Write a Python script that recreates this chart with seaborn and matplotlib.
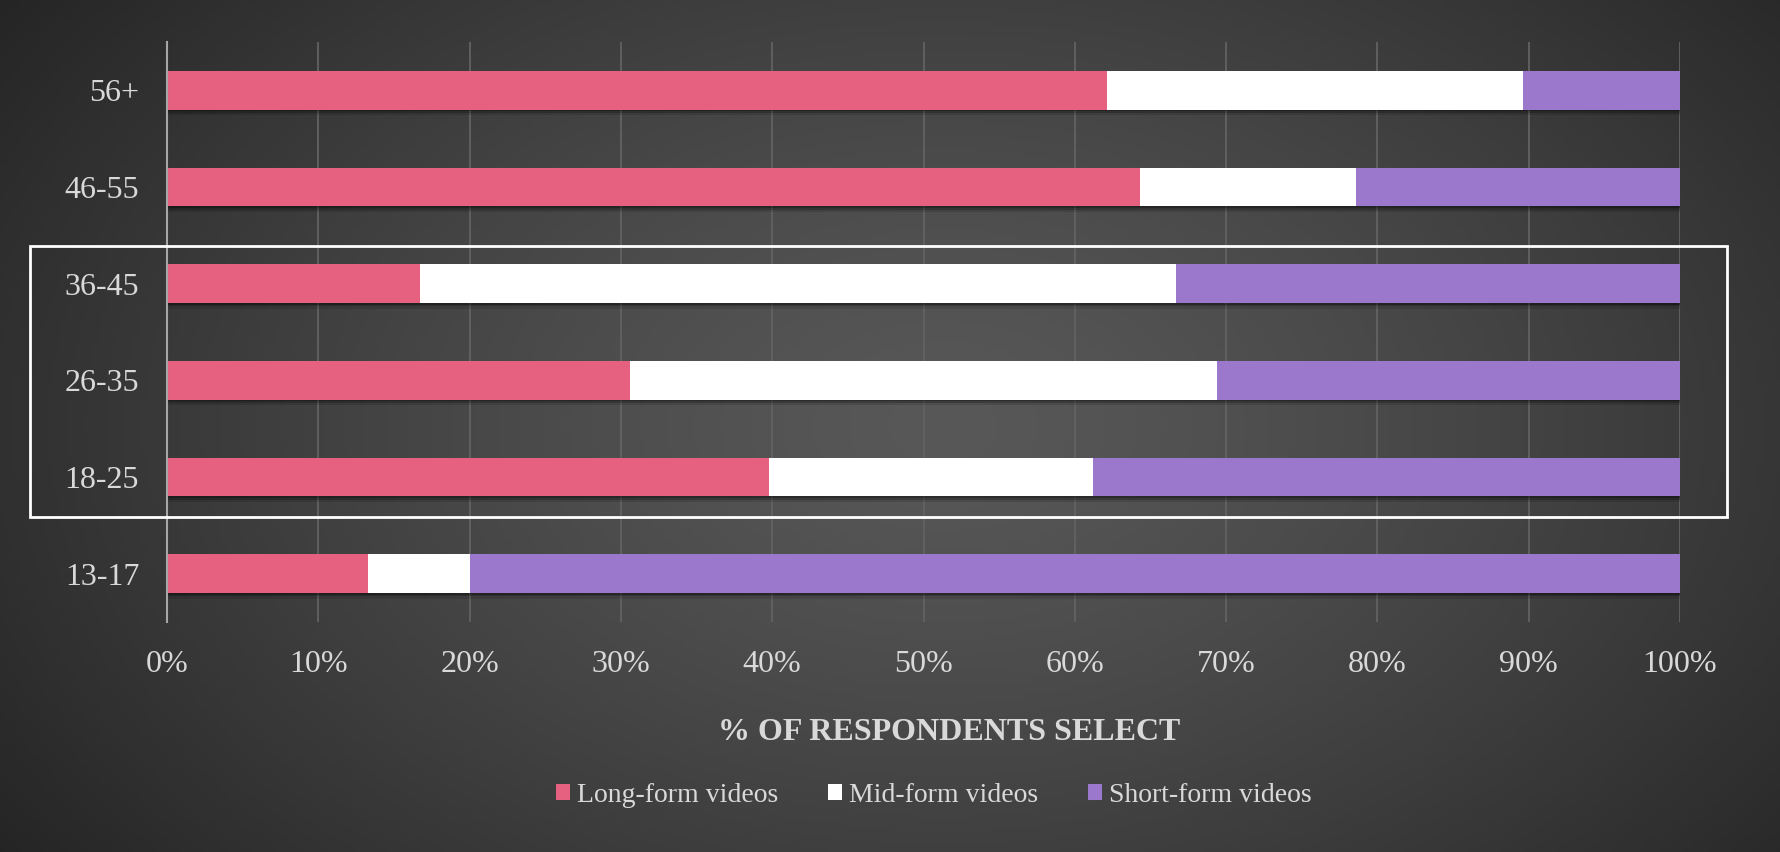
import numpy as np
import pandas as pd
import matplotlib
matplotlib.use("Agg")
import matplotlib.pyplot as plt
import matplotlib.patheffects as pe
from matplotlib.patches import Rectangle, Patch
import seaborn as sns

# Data
age_groups = ["56+", "46-55", "36-45", "26-35", "18-25", "13-17"]
long_form = [62.1, 64.3, 16.7, 30.6, 39.8, 13.3]
mid_form = [27.5, 14.3, 50.0, 38.8, 21.4, 6.7]
short_form = [10.4, 21.4, 33.3, 30.6, 38.8, 80.0]
series_names = ["Long-form videos", "Mid-form videos", "Short-form videos"]
series_colors = ["#E5617F", "#FFFFFF", "#9B78CC"]
x_ticks = list(range(0, 101, 10))

df = pd.DataFrame({
    "age": age_groups,
    "long": long_form,
    "mid": mid_form,
    "short": short_form,
})
df["cum_long"] = df["long"]
df["cum_mid"] = df["long"] + df["mid"]
df["cum_short"] = df["long"] + df["mid"] + df["short"]

sns.set_theme(style="dark")
plt.rcParams["font.family"] = ["Liberation Serif", "DejaVu Serif"]
text_color = "#D9D9D9"

fig = plt.figure(figsize=(17.8, 8.52), dpi=100)

# Radial gradient background
bg = fig.add_axes([0, 0, 1, 1], zorder=-10)
gx, gy = np.meshgrid(np.linspace(0, 1, 400), np.linspace(0, 1, 200))
r = np.sqrt(((gx - 0.53) / 0.55) ** 2 + ((gy - 0.5) / 0.75) ** 2)
r = np.clip(r / r.max(), 0, 1)
shade = 0x58 / 255 - (0x58 - 0x25) / 255 * r ** 1.3
bg.imshow(np.dstack([shade, shade, shade]), aspect="auto", extent=[0, 1, 0, 1])
bg.axis("off")

ax = fig.add_axes([167 / 1780, 230 / 852, 1513 / 1780, 580 / 852])
ax.set_facecolor("none")

# Stacked bars: draw the full-length segment first, then overlay
layers = [("cum_short", 2), ("cum_mid", 1), ("cum_long", 0)]
for col, i in layers:
    sns.barplot(data=df, y="age", x=col, order=age_groups, orient="h",
                color=series_colors[i], width=0.4, saturation=1,
                ax=ax, zorder=3, linewidth=0)

# soft shadow under the back layer only
n = len(age_groups)
for p in ax.patches[:n]:
    p.set_path_effects([
        pe.SimplePatchShadow(offset=(0, -4), shadow_rgbFace="black", alpha=0.12),
        pe.SimplePatchShadow(offset=(0, -2.5), shadow_rgbFace="black", alpha=0.2),
        pe.SimplePatchShadow(offset=(0, -1.2), shadow_rgbFace="black", alpha=0.25),
        pe.Normal()])

ax.set_xlim(0, 100)
ax.set_ylim(n - 0.5, -0.5)
ax.set_xticks(x_ticks)
ax.set_xticklabels([f"{t}%" for t in x_ticks])
ax.set_xlabel("")
ax.set_ylabel("")
ax.tick_params(axis="both", length=0, colors=text_color, labelsize=23)
ax.tick_params(axis="x", pad=20)
ax.tick_params(axis="y", pad=20)
ax.grid(axis="x", color="#626262", linewidth=1.3, zorder=0)
ax.grid(axis="y", visible=False)
for s in ["top", "right", "bottom"]:
    ax.spines[s].set_visible(False)
ax.spines["left"].set_color("#A6A6A6")
ax.spines["left"].set_linewidth(1.5)
ax.spines["left"].set_zorder(4)

fig.text(949 / 1780, (852 - 733) / 852, "% OF RESPONDENTS SELECT", ha="center", va="center",
         fontsize=23, fontweight="bold", color=text_color)

handles = [Patch(facecolor=c, edgecolor="none") for c in series_colors]
leg = fig.legend(handles, series_names,
                 loc="center", bbox_to_anchor=(934 / 1780, (852 - 795) / 852), ncol=3,
                 frameon=False, fontsize=20, handlelength=0.5, handleheight=0.5,
                 handletextpad=0.25, columnspacing=1.8)
for t in leg.get_texts():
    t.set_color(text_color)

# highlight box around the 18-45 groups
fig.patches.append(Rectangle((29.5 / 1780, (852 - 516.5) / 852), (1726.6 - 29.5) / 1780,
                             (516.5 - 246.3) / 852, transform=fig.transFigure,
                             fill=False, edgecolor="white", linewidth=2, zorder=5))

fig.savefig("out.png", dpi=100)
